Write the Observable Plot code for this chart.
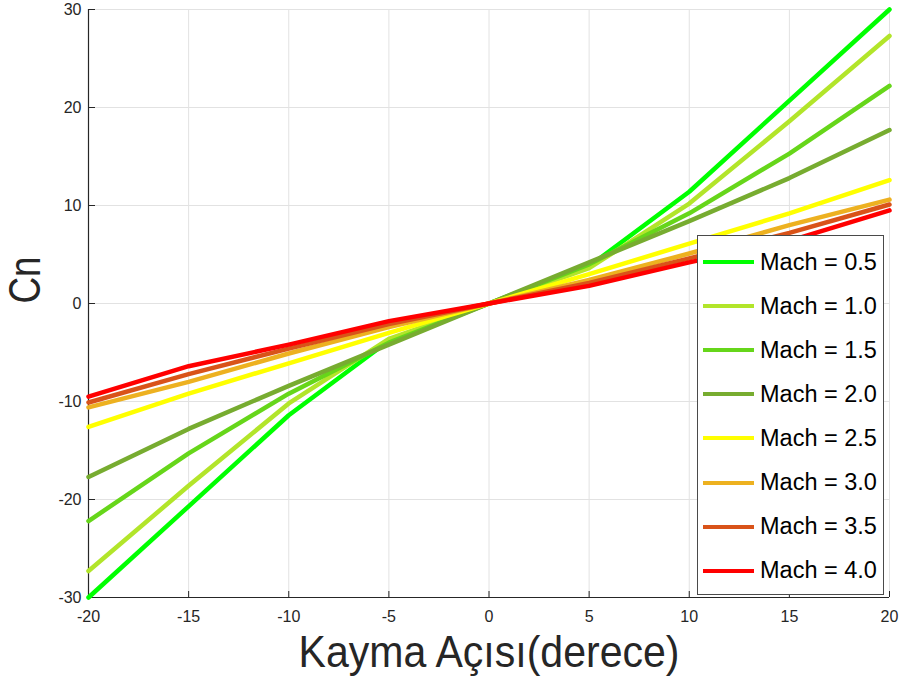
<!DOCTYPE html>
<html>
<head>
<meta charset="utf-8">
<script src="https://cdn.jsdelivr.net/npm/d3@7"></script>
<script src="https://cdn.jsdelivr.net/npm/@observablehq/plot@0.6"></script>
<style>
  html, body { margin: 0; padding: 0; background: #fff; }
  #wrap { position: relative; width: 900px; height: 680px; }
  #legend {
    position: absolute; left: 697px; top: 235px; width: 187px; height: 360px;
    border: 1px solid #4a4a4a; background: #fff; box-sizing: border-box;
    font-family: "Liberation Sans", Arial, sans-serif; font-size: 23.5px; color: #000;
  }
  .row { position: absolute; left: 0; height: 30px; display: flex; align-items: center; }
  .sw { width: 51px; height: 4px; margin-left: 5px; margin-right: 6px; }
</style>
</head>
<body>
<div id="wrap"></div>
<script>
// Sideslip angle (degrees)
const alpha = [-20, -15, -10, -5, 0, 5, 10, 15, 20];
const machLabels = ["Mach = 0.5", "Mach = 1.0", "Mach = 1.5", "Mach = 2.0",
                    "Mach = 2.5", "Mach = 3.0", "Mach = 3.5", "Mach = 4.0"];
const colors = ["#00ff00", "#b2e52a", "#66d61a", "#77ac30",
                "#ffff00", "#edb120", "#d95319", "#ff0000"];
const cnM05 = [-30.0, -20.7, -11.4, -3.8, 0, 3.8, 11.4, 20.7, 30.0];
const cnM10 = [-27.3, -18.6, -10.2, -3.6, 0, 3.6, 10.2, 18.6, 27.3];
const cnM15 = [-22.2, -15.3, -9.2, -4.0, 0, 4.0, 9.2, 15.3, 22.2];
const cnM20 = [-17.7, -12.8, -8.4, -4.2, 0, 4.2, 8.4, 12.8, 17.7];
const cnM25 = [-12.6, -9.2, -6.1, -3.0, 0, 3.0, 6.1, 9.2, 12.6];
const cnM30 = [-10.6, -8.0, -5.1, -2.4, 0, 2.4, 5.1, 8.0, 10.6];
const cnM35 = [-10.1, -7.2, -4.6, -2.1, 0, 2.1, 4.6, 7.2, 10.1];
const cnM40 = [-9.5, -6.4, -4.2, -1.8, 0, 1.8, 4.2, 6.4, 9.5];
const xTicks = [-20, -15, -10, -5, 0, 5, 10, 15, 20];
const yTicks = [-30, -20, -10, 0, 10, 20, 30];
const xLabel = "Kayma Açısı(derece)";
const yLabel = "Cn";

const series = [cnM05, cnM10, cnM15, cnM20, cnM25, cnM30, cnM35, cnM40];
const rows = machLabels.flatMap((m, i) => alpha.map((a, j) => ({mach: m, alpha: a, cn: series[i][j]})));

const axisColor = "#262626";
const chart = Plot.plot({
  width: 900, height: 680,
  marginLeft: 88, marginRight: 11, marginTop: 9, marginBottom: 83,
  x: {domain: [-20, 20]},
  y: {domain: [-30, 30]},
  color: {domain: machLabels, range: colors},
  style: {fontFamily: "'Liberation Sans', Arial, sans-serif", fontSize: "16px", color: axisColor, background: "#fff"},
  marks: [
    Plot.gridX(xTicks, {stroke: "#e2e2e2", strokeOpacity: 1, strokeWidth: 1}),
    Plot.gridY(yTicks, {stroke: "#e2e2e2", strokeOpacity: 1, strokeWidth: 1}),
    Plot.axisX(xTicks, {anchor: "bottom", tickSize: 0, tickPadding: 13, label: null, fontSize: 16, tickFormat: d => String(d)}),
    Plot.axisX(xTicks, {anchor: "bottom", tickSize: 6, dy: -6, text: null, label: null, stroke: axisColor}),
    Plot.axisY(yTicks, {anchor: "left", tickSize: 0, tickPadding: 7, label: null, fontSize: 16, tickFormat: d => String(d)}),
    Plot.axisY(yTicks, {anchor: "left", tickSize: 7, dx: 7, text: null, label: null, stroke: axisColor}),
    Plot.ruleX([-20], {stroke: axisColor, strokeWidth: 1.2}),
    Plot.ruleY([-30], {stroke: axisColor, strokeWidth: 1.2}),
    Plot.line(rows, {x: "alpha", y: "cn", z: "mach", stroke: "mach", strokeWidth: 4.5, strokeLinejoin: "round"}),
    Plot.text([xLabel], {frameAnchor: "bottom", dy: 69, lineAnchor: "bottom", fontSize: 44, fill: axisColor, text: d => d}),
    Plot.text([yLabel], {frameAnchor: "left", dx: -49, rotate: -90, lineAnchor: "bottom", fontSize: 45, fill: axisColor, text: d => d})
  ]
});
document.getElementById("wrap").appendChild(chart);

// condense big axis titles
d3.select(chart).selectAll("text").each(function() {
  const t = this.textContent;
  if (t === xLabel) { this.setAttribute("textLength", 381); this.setAttribute("lengthAdjust", "spacingAndGlyphs"); }
  if (t === yLabel) { this.setAttribute("textLength", 47); this.setAttribute("lengthAdjust", "spacingAndGlyphs"); }
});

// legend
const lg = document.createElement("div");
lg.id = "legend";
machLabels.forEach((m, i) => {
  const r = document.createElement("div");
  r.className = "row";
  r.style.top = (11 + i * 44.1) + "px";
  const sw = document.createElement("div");
  sw.className = "sw";
  sw.style.background = colors[i];
  const tx = document.createElement("span");
  tx.textContent = m;
  r.appendChild(sw); r.appendChild(tx);
  lg.appendChild(r);
});
document.getElementById("wrap").appendChild(lg);
</script>
</body>
</html>
